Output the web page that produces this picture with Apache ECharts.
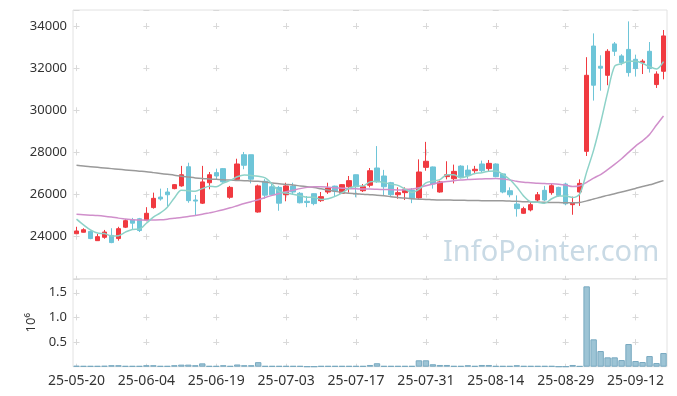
<!DOCTYPE html>
<html><head><meta charset="utf-8">
<script src="https://cdn.jsdelivr.net/npm/echarts@6/dist/echarts.min.js"></script>
<style>html,body{margin:0;padding:0;background:#fff}#c{width:677px;height:396px}</style>
</head><body><div id="c"></div>
<script>
const dates = ['25-05-20','25-05-21','25-05-22','25-05-23','25-05-26','25-05-27','25-05-28','25-05-29','25-05-30','25-06-02',
'25-06-04','25-06-05','25-06-09','25-06-10','25-06-11','25-06-12','25-06-13','25-06-16','25-06-17','25-06-18',
'25-06-19','25-06-20','25-06-23','25-06-24','25-06-25','25-06-26','25-06-27','25-06-30','25-07-01','25-07-02',
'25-07-03','25-07-04','25-07-07','25-07-08','25-07-09','25-07-10','25-07-11','25-07-14','25-07-15','25-07-16',
'25-07-17','25-07-18','25-07-21','25-07-22','25-07-23','25-07-24','25-07-25','25-07-28','25-07-29','25-07-30',
'25-07-31','25-08-01','25-08-04','25-08-05','25-08-06','25-08-07','25-08-08','25-08-11','25-08-12','25-08-13',
'25-08-14','25-08-18','25-08-19','25-08-20','25-08-21','25-08-22','25-08-25','25-08-26','25-08-27','25-08-28',
'25-08-29','25-09-01','25-09-02','25-09-03','25-09-04','25-09-05','25-09-08','25-09-09','25-09-10','25-09-11',
'25-09-12','25-09-15','25-09-16','25-09-17','25-09-18'];

const opens = [24140,24210,24250,23810,23970,24060,23910,24450,24790,24850,
24790,25380,25880,26120,26280,26410,27320,25740,25590,26560,
27040,27230,25870,26720,27890,27890,25170,26630,26370,26340,
25990,26400,26060,25680,26040,25710,26120,26400,26060,26370,
26940,26180,26440,27260,26880,26560,25990,26090,26210,25840,
27290,27310,26120,26850,26750,27350,27160,27130,27450,27230,
27450,26980,26180,25550,25110,25270,25740,26200,26090,26340,
26500,25520,26120,28050,33050,32090,31660,33150,32580,32890,
32420,32260,32800,31220,31850];
const closes = [24270,24330,23910,24000,24220,23720,24380,24760,24640,24290,
25110,25820,25790,25990,26470,26940,25710,25690,26600,26940,
26880,26600,26340,27450,27390,26730,26410,25970,25990,25590,
26410,26120,25610,25620,25570,25900,26310,26160,26470,26660,
26370,26370,27130,26600,26370,25990,26090,26250,25800,27070,
27580,26500,26600,26940,27100,26820,26910,27200,27130,27480,
26850,26120,25990,25330,25330,25520,25990,25740,26420,25960,
25560,25610,26530,31660,31190,32000,32800,32800,32260,31790,
31980,32330,31980,31720,33530];
const lows = [24140,24200,23880,23810,23900,23690,23810,24410,24350,24220,
24730,25330,25710,25420,26250,26370,25610,24980,25550,26250,
26690,26560,25800,26690,27200,26530,25140,25800,25930,25230,
25680,25990,25580,25400,25490,25650,26030,25900,26030,26090,
25870,26120,26340,26560,25930,25930,25800,25740,25590,25800,
27130,26280,26090,26720,26530,26760,26750,26970,27070,27100,
26820,26060,25870,24950,25080,25200,25610,25690,25990,25900,
25490,25040,25460,27830,30460,30930,31190,32580,32140,31600,
31600,31720,31790,31060,31470];
const highs = [24470,24400,24290,24130,24320,24400,24470,24830,24890,24890,
25400,26090,26280,26310,26500,27360,27510,25980,27360,27070,
27230,27260,26410,27700,28020,27890,26470,26730,26530,26410,
26560,26560,26120,25930,26060,26120,26560,26420,26500,26880,
26950,26500,27260,28300,27170,26600,26340,26340,26310,27670,
28500,27330,26660,27580,27420,27390,27390,27360,27610,27640,
27480,27010,26340,25960,25420,25650,26120,26410,26530,26370,
26560,25900,26720,32520,33650,32610,32900,33240,32660,34220,
32640,32420,33240,31850,33810];

const ma5 = [24830,24560,24320,24170,24146,24036,24046,24216,24344,24358,
24636,24924,25130,25400,25836,26202,26180,26160,26282,26388,
26364,26542,26672,26842,26932,26902,26864,26790,26498,26138,
26074,26016,25944,25870,25866,25764,25802,25912,26082,26300,
26394,26406,26600,26626,26568,26492,26436,26260,26100,26240,
26558,26640,26710,26938,26944,26792,26874,26994,27032,27108,
27114,26956,26714,26354,25924,25658,25632,25582,25800,25926,
25934,25858,26016,27064,28110,29398,30836,32090,32210,32330,
32326,32232,32068,31960,32308];
const ma20 = [25060,25040,25020,25000,24970,24930,24880,24840,24800,24790,
24780,24790,24800,24830,24870,24910,24960,25000,25060,25130,
25200,25280,25370,25470,25570,25660,25750,25860,25960,26050,
26130,26200,26280,26340,26370,26370,26350,26320,26300,26280,
26270,26260,26260,26250,26240,26230,26220,26230,26260,26320,
26420,26500,26570,26620,26660,26690,26710,26730,26740,26750,
26760,26740,26690,26630,26580,26560,26530,26520,26510,26490,
26450,26380,26420,26580,26780,26950,27180,27430,27700,28000,
28300,28550,28850,29300,29730];
const ma60 = [27390,27350,27320,27290,27260,27230,27200,27170,27140,27110,
27080,27040,27000,26960,26920,26870,26830,26790,26760,26740,
26720,26700,26690,26670,26660,26640,26630,26590,26550,26510,
26480,26450,26410,26370,26330,26270,26210,26150,26100,26060,
26040,26010,25990,25970,25940,25900,25860,25830,25800,25780,
25770,25750,25740,25740,25730,25730,25720,25720,25710,25710,
25710,25700,25690,25680,25660,25650,25640,25630,25620,25620,
25610,25610,25620,25700,25790,25870,25960,26040,26120,26200,
26290,26380,26460,26560,26660];

const volumes = [18000,15000,15000,15000,18000,30000,30000,15000,15000,15000,
30000,30000,15000,15000,30000,42000,42000,30000,68000,15000,
15000,30000,15000,45000,30000,30000,92000,15000,15000,15000,
15000,15000,15000,2000,2000,15000,15000,15000,15000,15000,
15000,15000,35000,70000,15000,15000,15000,15000,15000,130000,
130000,50000,35000,35000,15000,15000,30000,15000,35000,35000,
15000,15000,15000,30000,15000,15000,15000,15000,15000,2000,
2000,35000,12000,1630000,555000,318000,190000,190000,135000,460000,
115000,95000,216000,74000,277000];

const priceTicks = {min: 22000, max: 34760, step: 2000};
const volTicks = {min: 0, max: 1783000, step: 500000};

const chart = echarts.init(document.getElementById('c'), null, {renderer: 'canvas'});
const gridColor = '#e2e2e2';
const crossColor = '#d9d9d9';
const candleData = dates.map((d, i) => [opens[i], closes[i], lows[i], highs[i]]);

chart.setOption({
  animation: false,
  textStyle: {fontFamily: 'Noto Sans'},
  graphic: [{
    type: 'text', left: 443, top: 238, z: -10,
    style: {text: 'InfoPointer.com', fill: '#c9dae5', font: '29px "Noto Sans"'}
  }],
  grid: [
    {left: 73, right: 10, top: 10, height: 268.8, show: true, borderColor: gridColor, borderWidth: 1},
    {left: 73, right: 10, top: 278.8, height: 87.9, show: true, borderColor: gridColor, borderWidth: 1}
  ],
  xAxis: [
    {type: 'category', gridIndex: 0, data: dates, boundaryGap: true,
     axisLine: {show: false}, axisTick: {show: false, alignWithLabel: true, interval: 9}, axisLabel: {show: false, interval: 9},
     splitLine: {show: true, interval: 9, alignWithLabel: true,
       lineStyle: {color: crossColor, width: 1, type: [6, 36.14], dashOffset: 29.14}}},
    {type: 'category', gridIndex: 1, data: dates, boundaryGap: true,
     axisLine: {show: false}, axisTick: {show: false, alignWithLabel: true, interval: 9},
     axisLabel: {show: true, interval: 9, color: '#333', fontSize: 14, margin: 7},
     splitLine: {show: true, interval: 9, alignWithLabel: true,
       lineStyle: {color: crossColor, width: 1, type: [6, 18.67], dashOffset: 13.77}}}
  ],
  yAxis: [
    {type: 'value', gridIndex: 0, min: priceTicks.min, max: priceTicks.max, interval: priceTicks.step,
     axisLine: {show: false}, axisTick: {show: false},
     axisLabel: {color: '#333', fontSize: 13, margin: 6, showMinLabel: false, showMaxLabel: false,
       formatter: v => String(v)},
     splitLine: {show: true, lineStyle: {color: crossColor, width: 1, type: [6, 63.88], dashOffset: 69.38}}},
    {type: 'value', gridIndex: 1, min: volTicks.min, max: volTicks.max, interval: volTicks.step,
     name: '10⁶', nameLocation: 'middle', nameGap: 34, nameRotate: 90,
     nameTextStyle: {color: '#333', fontSize: 13},
     axisLine: {show: false}, axisTick: {show: false},
     axisLabel: {color: '#333', fontSize: 13, margin: 6, showMinLabel: false, showMaxLabel: false,
       formatter: v => (v / 1e6).toFixed(1)},
     splitLine: {show: true, lineStyle: {color: crossColor, width: 1, type: [6, 63.88], dashOffset: 69.38}}}
  ],
  series: [
    {type: 'candlestick', xAxisIndex: 0, yAxisIndex: 0, data: candleData, barWidth: 5,
     itemStyle: {color: '#f03a40', color0: '#6ec5d8', borderColor: '#f03a40', borderColor0: '#6ec5d8', borderWidth: 1}},
    {type: 'line', xAxisIndex: 0, yAxisIndex: 0, data: ma60, showSymbol: false, smooth: 0.3,
     lineStyle: {color: '#9a9a9a', width: 1.5}, itemStyle: {color: '#9a9a9a'}},
    {type: 'line', xAxisIndex: 0, yAxisIndex: 0, data: ma20, showSymbol: false, smooth: 0.3,
     lineStyle: {color: '#d08fcb', width: 1.5}, itemStyle: {color: '#d08fcb'}},
    {type: 'line', xAxisIndex: 0, yAxisIndex: 0, data: ma5, showSymbol: false, smooth: 0.3,
     lineStyle: {color: '#8dd2c8', width: 1.5}, itemStyle: {color: '#8dd2c8'}},
    {type: 'bar', xAxisIndex: 1, yAxisIndex: 1, data: volumes, barWidth: '92%',
     itemStyle: {color: '#9dc4d5', borderColor: '#78a9c0', borderWidth: 1}}
  ]
});
</script></body></html>
